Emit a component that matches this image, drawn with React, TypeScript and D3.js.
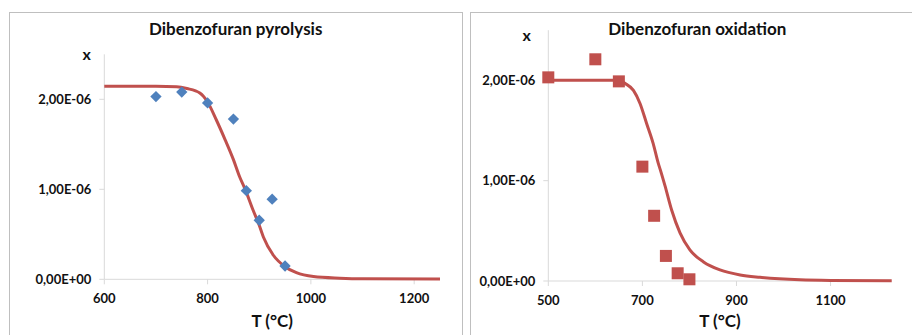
import React from 'react';
import * as d3 from 'd3';

// pyrolysis: measured points (diamonds) and fitted curve
const pyroT = [700, 750, 800, 850, 875, 900, 925, 950];
const pyroX = [2.03e-6, 2.08e-6, 1.96e-6, 1.78e-6, 0.985e-6, 0.656e-6, 0.89e-6, 0.148e-6];
const pyroCurveT = [600, 700, 740, 760, 785, 800, 817, 834, 850, 862, 872, 888, 900, 908, 927, 950, 972, 1005, 1056, 1100, 1250];
const pyroCurveX = [2.144, 2.144, 2.14, 2.12, 2.07, 1.97, 1.77, 1.55, 1.33, 1.14, 1.01, 0.77, 0.6, 0.47, 0.27, 0.14, 0.073, 0.03, 0.012, 0.005, 0.002].map(v => v * 1e-6);

// oxidation: measured points (squares) and fitted curve
const oxT = [500, 600, 650, 700, 725, 750, 775, 800];
const oxX = [2.03e-6, 2.21e-6, 1.99e-6, 1.14e-6, 0.65e-6, 0.25e-6, 0.077e-6, 0.017e-6];
const oxCurveT = [500, 600, 650, 663, 681, 695, 709, 723, 734, 738, 748, 762, 780, 801, 830, 865, 908, 950, 1035, 1100, 1230];
const oxCurveX = [2.0, 2.0, 2.0, 1.97, 1.9, 1.77, 1.57, 1.37, 1.17, 1.11, 0.95, 0.71, 0.48, 0.31, 0.19, 0.11, 0.06, 0.037, 0.012, 0.006, 0.003].map(v => v * 1e-6);

const yTicks = [0, 1e-6, 2e-6];
const pyroXTicks = [600, 800, 1000, 1200];
const oxXTicks = [500, 700, 900, 1100];

const font = 'Lato, "Open Sans", sans-serif';
const red = '#c0504d';
const blue = '#4f81bd';
const grid = '#d9d9d9';

const fmt = (v: number) => {
  const [m, e] = v.toExponential(2).split('e');
  const sign = e[0] === '-' ? '-' : '+';
  const digits = e.replace(/[+-]/, '').padStart(2, '0');
  return `${m.replace('.', ',')}E${sign}${digits}`;
};

type PanelProps = {
  title: string;
  pts: { t: number; x: number }[];
  curve: { t: number; x: number }[];
  xDomain: [number, number];
  xTicks: number[];
  x0: number;
  x1: number;
  y0: number;
  y1: number;
  titleX: number;
  xLabelPos: [number, number];
  marker: 'diamond' | 'square';
};

const Panel = ({ title, pts, curve, xDomain, xTicks, x0, x1, y0, y1, titleX, xLabelPos, marker }: PanelProps) => {
  const xs = d3.scaleLinear().domain(xDomain).range([x0, x1]);
  const ys = d3.scaleLinear().domain([0, 2.5e-6]).range([y0, y1]);
  const line = d3.line<{ t: number; x: number }>()
    .x(d => xs(d.t))
    .y(d => ys(d.x))
    .curve(d3.curveMonotoneX);

  return (
    <g fontFamily={font} fontWeight="bold" fill="#111">
      <text x={titleX} y={35} textAnchor="middle" fontSize={17}>{title}</text>
      <text x={xLabelPos[0]} y={xLabelPos[1]} textAnchor="middle" fontSize={16}>x</text>
      {/* axes */}
      <line x1={x0} x2={x0} y1={ys(2.5e-6)} y2={y0} stroke={grid} />
      <line x1={x0} x2={x1} y1={y0} y2={y0} stroke={grid} />
      {yTicks.map(t => (
        <g key={t} transform={`translate(${x0}, ${ys(t)})`}>
          <line x1={-5} x2={0} stroke={grid} />
          <text x={-13} dy="0.35em" textAnchor="end" fontSize={13}>{fmt(t)}</text>
        </g>
      ))}
      {xTicks.map(t => (
        <g key={t} transform={`translate(${xs(t)}, ${y0})`}>
          <line y1={0} y2={5} stroke={grid} />
          <text y={24} textAnchor="middle" fontSize={13}>{t}</text>
        </g>
      ))}
      <text x={(x0 + x1) / 2} y={327} textAnchor="middle" fontSize={17}>T (°C)</text>
      <path d={line(curve) ?? ''} fill="none" stroke={red} strokeWidth={3} />
      {pts.map((d, i) => marker === 'diamond' ? (
        <rect key={i} x={-4} y={-4} width={8} height={8} fill={blue}
          transform={`translate(${xs(d.t)}, ${ys(d.x)}) rotate(45)`} />
      ) : (
        <rect key={i} x={xs(d.t) - 6} y={ys(d.x) - 6} width={12} height={12} fill={red} />
      ))}
    </g>
  );
};

export default function App() {
  const pyroPts = pyroT.map((t, i) => ({ t, x: pyroX[i] }));
  const pyroCurve = pyroCurveT.map((t, i) => ({ t, x: pyroCurveX[i] }));
  const oxPts = oxT.map((t, i) => ({ t, x: oxX[i] }));
  const oxCurve = oxCurveT.map((t, i) => ({ t, x: oxCurveX[i] }));

  return (
    <svg width={912} height={335} style={{ position: 'absolute', left: 0, top: 0, background: '#fff' }}>
      <rect x={9.5} y={12.5} width={453} height={340} fill="#fff" stroke="#bfbfbf" />
      <rect x={470.5} y={12.5} width={460} height={340} fill="#fff" stroke="#bfbfbf" />
      <Panel title="Dibenzofuran pyrolysis" pts={pyroPts} curve={pyroCurve}
        xDomain={[600, 1250]} xTicks={pyroXTicks}
        x0={104.3} x1={440} y0={279.3} y1={54.3} titleX={235.7} xLabelPos={[86.7, 60]} marker="diamond" />
      <Panel title="Dibenzofuran oxidation" pts={oxPts} curve={oxCurve}
        xDomain={[500, 1230]} xTicks={oxXTicks}
        x0={548.3} x1={891.7} y0={281} y1={30.2} titleX={697.3} xLabelPos={[526.7, 41]} marker="square" />
    </svg>
  );
}
